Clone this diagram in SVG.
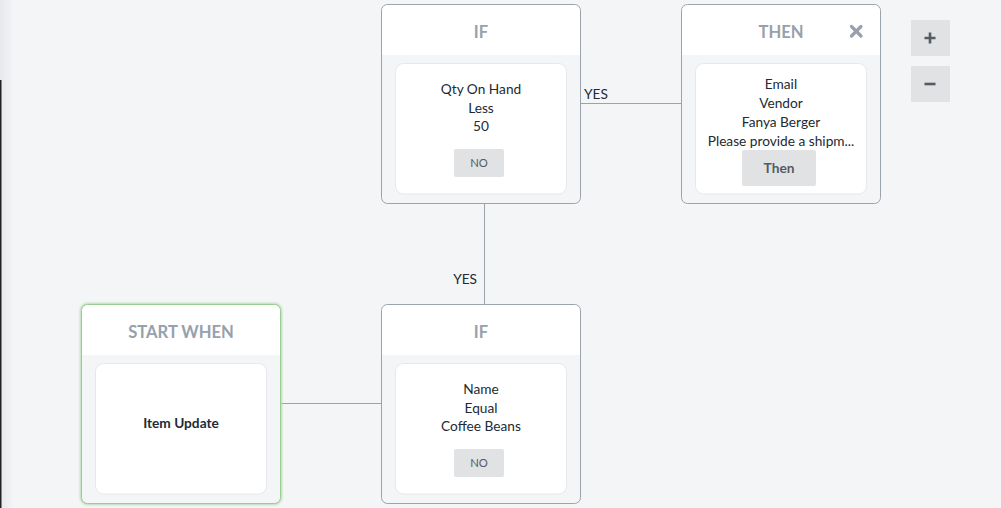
<svg xmlns="http://www.w3.org/2000/svg" width="1001" height="508" viewBox="0 0 1001 508">
<defs>
<linearGradient id="edge" x1="0" x2="1" y1="0" y2="0">
<stop offset="0" stop-color="#e6e8eb"/>
<stop offset="1" stop-color="#f4f5f7"/>
</linearGradient>
<filter id="glow" x="-10%" y="-10%" width="120%" height="120%">
<feGaussianBlur stdDeviation="1.2"/>
</filter>
</defs>
<style>
.node{fill:#f4f5f7;stroke:#9aa3ad;stroke-width:1}
.hdr{fill:#ffffff}
.card{fill:#ffffff;stroke:#e6e8eb;stroke-width:1}
.title{font-family:Lato,"Open Sans",sans-serif;font-size:16.6px;font-weight:bold;fill:#97a1ac;text-anchor:middle}
.txt{font-family:Lato,"Open Sans",sans-serif;font-size:13.7px;fill:#222a33;text-anchor:middle}
.btn{fill:#e1e2e4}
.btxt{font-family:Lato,"Open Sans",sans-serif;font-size:11.3px;fill:#555b63;text-anchor:middle}
.lbl{font-family:Lato,"Open Sans",sans-serif;font-size:13.7px;fill:#222a33}
.conn{stroke:#9aa3ad;stroke-width:1;fill:none}
</style>
<rect width="1001" height="508" fill="#f4f5f7"/>
<rect x="0" y="0" width="14" height="508" fill="url(#edge)"/>
<rect x="0" y="80" width="1.5" height="428" fill="#222222"/>

<g id="connectors">
<line class="conn" x1="581" y1="103.5" x2="681" y2="103.5"/>
<line class="conn" x1="484.5" y1="204" x2="484.5" y2="304"/>
<line class="conn" x1="281" y1="403.5" x2="381" y2="403.5"/>
<text class="lbl" x="584" y="99">YES</text>
<text class="lbl" x="477" y="284" text-anchor="end">YES</text>
</g>

<g id="node-if-top">
<rect class="node" x="381.5" y="4.5" width="199" height="199" rx="6"/>
<path class="hdr" d="M382 55 V11 a6 6 0 0 1 6 -6 H574 a6 6 0 0 1 6 6 V55 Z"/>
<text class="title" x="481" y="37.5">IF</text>
<rect class="card" x="395.5" y="63.5" width="171" height="130.5" rx="8"/>
<text class="txt" x="481" y="94">Qty On Hand</text>
<text class="txt" x="481" y="112.5">Less</text>
<text class="txt" x="481" y="131">50</text>
<rect class="btn" x="454" y="149" width="50" height="28" rx="2"/>
<text class="btxt" x="479" y="167">NO</text>
</g>

<g id="node-then">
<rect class="node" x="681.5" y="4.5" width="199" height="199" rx="6"/>
<path class="hdr" d="M682 55 V11 a6 6 0 0 1 6 -6 H874 a6 6 0 0 1 6 6 V55 Z"/>
<text class="title" x="781" y="37.5">THEN</text>
<g stroke="#97a1ac" stroke-width="3.2" stroke-linecap="round">
<line x1="851.5" y1="26.5" x2="861" y2="36"/>
<line x1="861" y1="26.5" x2="851.5" y2="36"/>
</g>
<rect class="card" x="695.5" y="63.5" width="171" height="130.5" rx="8"/>
<text class="txt" x="781" y="89">Email</text>
<text class="txt" x="781" y="108">Vendor</text>
<text class="txt" x="781" y="127">Fanya Berger</text>
<text class="txt" x="781" y="146">Please provide a shipm...</text>
<rect class="btn" x="742" y="150" width="74" height="36" rx="2"/>
<text class="btxt" x="779" y="172.5" style="font-size:13.7px;font-weight:bold">Then</text>
</g>

<g id="zoom-controls">
<rect class="btn" x="911" y="20" width="39" height="36"/>
<path d="M924.5 38 H935.5 M930 32.5 V43.5" stroke="#555b63" stroke-width="2.6"/>
<rect class="btn" x="911" y="66" width="39" height="36"/>
<path d="M924.5 84 H935.5" stroke="#555b63" stroke-width="2.6"/>
</g>

<g id="node-start">
<rect x="81.5" y="304.5" width="199" height="199" rx="6" fill="none" stroke="#b5dcb0" stroke-width="3" filter="url(#glow)"/>
<rect x="81.5" y="304.5" width="199" height="199" rx="6" fill="#f4f5f7" stroke="#98cc92" stroke-width="1"/>
<path class="hdr" d="M82 355 V311 a6 6 0 0 1 6 -6 H274 a6 6 0 0 1 6 6 V355 Z"/>
<text class="title" x="181" y="337.5">START WHEN</text>
<rect class="card" x="95.5" y="363.5" width="171" height="130.5" rx="8"/>
<text class="txt" x="181" y="428" style="font-weight:bold">Item Update</text>
</g>

<g id="node-if-bottom">
<rect class="node" x="381.5" y="304.5" width="199" height="199" rx="6"/>
<path class="hdr" d="M382 355 V311 a6 6 0 0 1 6 -6 H574 a6 6 0 0 1 6 6 V355 Z"/>
<text class="title" x="481" y="337.5">IF</text>
<rect class="card" x="395.5" y="363.5" width="171" height="130.5" rx="8"/>
<text class="txt" x="481" y="394">Name</text>
<text class="txt" x="481" y="412.5">Equal</text>
<text class="txt" x="481" y="431">Coffee Beans</text>
<rect class="btn" x="454" y="449" width="50" height="28" rx="2"/>
<text class="btxt" x="479" y="467">NO</text>
</g>
</svg>
